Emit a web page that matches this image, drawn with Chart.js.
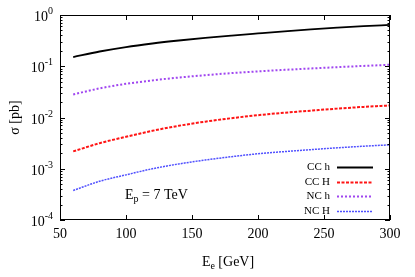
<!DOCTYPE html>
<html>
<head>
<meta charset="utf-8">
<script src="https://cdn.jsdelivr.net/npm/chart.js@4"></script>
<style>
html,body{margin:0;padding:0;background:#fff;}
#wrap{width:415px;height:277px;position:relative;}
</style>
</head>
<body>
<div id="wrap"><canvas id="c" width="415" height="277"></canvas></div>
<script>
// ---- data ----
const energies = [60, 80, 100, 120, 140, 160, 180, 200, 220, 240, 260, 280, 300];
const ccLight  = [0.151, 0.194, 0.237, 0.278, 0.318, 0.358, 0.397, 0.437, 0.480, 0.524, 0.567, 0.608, 0.640];
const ccHeavy  = [0.00218, 0.00315, 0.00420, 0.00550, 0.00690, 0.00830, 0.00970, 0.01110, 0.01240, 0.01360, 0.01490, 0.01610, 0.01720];
const ncLight  = [0.0282, 0.0370, 0.0454, 0.0530, 0.0602, 0.0670, 0.0735, 0.0795, 0.0850, 0.0905, 0.0960, 0.1015, 0.1070];
const ncHeavy  = [0.000377, 0.000570, 0.000760, 0.00100, 0.00124, 0.00148, 0.00172, 0.00196, 0.00216, 0.00236, 0.00256, 0.00275, 0.00293];
const seriesNames = ["CC h", "CC H", "NC h", "NC H"];
const xTicks = [50, 100, 150, 200, 250, 300];
const yDecades = [-4, -3, -2, -1, 0];

const SERIF = "'Liberation Serif', 'DejaVu Serif', serif";
const styles = [
  {color: '#000000', dash: [], width: 1.8},
  {color: 'rgb(255,20,20)', dash: [3, 1.5], width: 2},
  {color: 'rgb(160,70,240)', dash: [2, 2], width: 2},
  {color: 'rgb(80,80,255)', dash: [2, 1], width: 1.5}
];
const seriesData = [ccLight, ccHeavy, ncLight, ncHeavy];

const datasets = seriesData.map((vals, i) => ({
  label: seriesNames[i],
  data: energies.map((e, j) => ({x: e, y: vals[j]})),
  borderColor: styles[i].color,
  borderDash: styles[i].dash,
  borderWidth: styles[i].width,
  pointRadius: 0,
  fill: false,
  cubicInterpolationMode: 'monotone'
}));

const framePlugin = {
  id: 'frame',
  afterDatasetsDraw(chart) {
    const ctx = chart.ctx;
    const a = chart.chartArea;
    const xs = chart.scales.x, ys = chart.scales.y;
    ctx.save();
    ctx.strokeStyle = '#000';
    ctx.lineWidth = 1;
    ctx.setLineDash([]);
    ctx.strokeRect(a.left + 0.5, a.top + 0.5, a.right - a.left - 1, a.bottom - a.top - 1);
    // x ticks (inward, bottom + top)
    ctx.beginPath();
    xTicks.forEach(v => {
      const px = Math.round(xs.getPixelForValue(v)) + 0.5;
      ctx.moveTo(px, a.bottom); ctx.lineTo(px, a.bottom - 5);
      ctx.moveTo(px, a.top); ctx.lineTo(px, a.top + 5);
    });
    // y ticks (major + minor, left + right)
    yDecades.forEach(d => {
      for (let m = 1; m <= 9; m++) {
        const v = m * Math.pow(10, d);
        if (v > 1.0001) continue;
        const py = Math.round(ys.getPixelForValue(v)) + 0.5;
        const len = (m === 1) ? 5 : 2.5;
        ctx.moveTo(a.left, py); ctx.lineTo(a.left + len, py);
        ctx.moveTo(a.right, py); ctx.lineTo(a.right - len, py);
      }
    });
    ctx.stroke();
    ctx.fillStyle = '#000';
    // x tick labels
    ctx.font = '14px ' + SERIF;
    ctx.textAlign = 'center';
    ctx.textBaseline = 'middle';
    xTicks.forEach(v => {
      ctx.fillText(String(v), xs.getPixelForValue(v), a.bottom + 14);
    });
    // y tick labels 10^d
    yDecades.forEach(d => {
      const py = ys.getPixelForValue(Math.pow(10, d));
      const sup = String(d);
      ctx.font = '10px ' + SERIF;
      const sw = ctx.measureText(sup).width;
      const right = a.left - 7;
      ctx.textAlign = 'right';
      ctx.textBaseline = 'alphabetic';
      ctx.fillText(sup, right, py - 1);
      ctx.font = '14px ' + SERIF;
      ctx.fillText('10', right - sw, py + 6);
    });
    // x axis title E_e [GeV]
    {
      const cx = (a.left + a.right) / 2 + 3;
      const by = a.bottom + 46;
      ctx.textAlign = 'left';
      ctx.textBaseline = 'alphabetic';
      ctx.font = '14px ' + SERIF;
      const w1 = ctx.measureText('E').width;
      ctx.font = '10px ' + SERIF;
      const w2 = ctx.measureText('e').width;
      ctx.font = '14px ' + SERIF;
      const w3 = ctx.measureText(' [GeV]').width;
      let x0 = cx - (w1 + w2 + w3) / 2;
      ctx.fillText('E', x0, by);
      ctx.font = '10px ' + SERIF;
      ctx.fillText('e', x0 + w1, by + 3);
      ctx.font = '14px ' + SERIF;
      ctx.fillText(' [GeV]', x0 + w1 + w2, by);
    }
    // y axis title
    ctx.save();
    ctx.translate(19, (a.top + a.bottom) / 2);
    ctx.rotate(-Math.PI / 2);
    ctx.textAlign = 'center';
    ctx.textBaseline = 'alphabetic';
    ctx.font = '14px ' + SERIF;
    ctx.fillText('\u03C3 [pb]', 0, 0);
    ctx.restore();
    // E_p = 7 TeV annotation
    {
      const x0 = 125, by = 199;
      ctx.textAlign = 'left';
      ctx.textBaseline = 'alphabetic';
      ctx.font = '14px ' + SERIF;
      ctx.fillText('E', x0, by);
      const w1 = ctx.measureText('E').width;
      ctx.font = '10px ' + SERIF;
      ctx.fillText('p', x0 + w1, by + 3);
      const w2 = ctx.measureText('p').width;
      ctx.font = '14px ' + SERIF;
      ctx.fillText(' = 7 TeV', x0 + w1 + w2, by);
    }
    // legend
    const legY = [167, 182, 196, 211];
    seriesNames.forEach((n, i) => {
      const y = legY[i];
      ctx.font = '11px ' + SERIF;
      ctx.textAlign = 'right';
      ctx.textBaseline = 'middle';
      ctx.fillStyle = '#000';
      ctx.fillText(n, 330, y);
      ctx.beginPath();
      ctx.strokeStyle = styles[i].color;
      ctx.lineWidth = styles[i].width;
      ctx.setLineDash(styles[i].dash);
      ctx.moveTo(337, y + 0.5);
      ctx.lineTo(373, y + 0.5);
      ctx.stroke();
    });
    ctx.restore();
  }
};

new Chart(document.getElementById('c'), {
  type: 'line',
  data: {datasets},
  options: {
    responsive: false,
    animation: false,
    devicePixelRatio: 1,
    layout: {padding: {left: 0, right: 25, top: 15, bottom: 0}},
    plugins: {legend: {display: false}, tooltip: {enabled: false}},
    scales: {
      x: {
        type: 'linear', min: 50, max: 300,
        grid: {display: false, drawTicks: false},
        border: {display: false},
        ticks: {display: false},
        afterFit(s) { s.height = 57; }
      },
      y: {
        type: 'logarithmic', min: 1e-4, max: 1,
        grid: {display: false, drawTicks: false},
        border: {display: false},
        ticks: {display: false},
        afterFit(s) { s.width = 60; }
      }
    }
  },
  plugins: [framePlugin]
});
</script>
</body>
</html>
